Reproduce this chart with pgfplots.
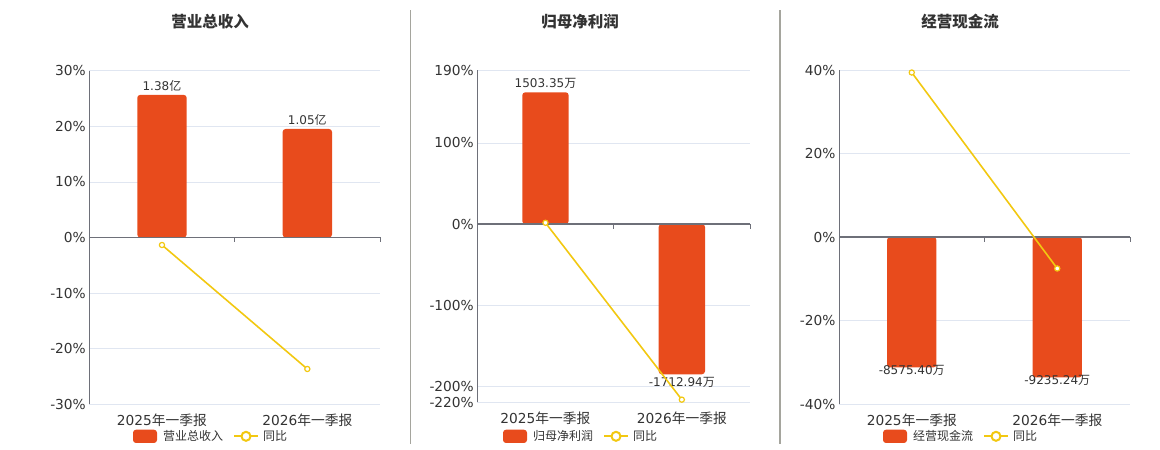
\documentclass[border=0pt]{standalone}
\usepackage{fontspec}
\setmainfont{DejaVu Sans}
\newfontfamily\cjk{Noto Sans CJK SC}
\usepackage{pgfplots}
\pgfplotsset{compat=1.18}
\definecolor{barc}{HTML}{E84B1C}
\definecolor{linec}{HTML}{F2C811}
\definecolor{txt}{HTML}{333333}
\definecolor{axc}{HTML}{6E7079}
\definecolor{gridc}{HTML}{E0E6F1}
\definecolor{sepc}{HTML}{A5A59D}
\newcommand{\yi}{{\cjk 亿}}
\newcommand{\wan}{{\cjk 万}}
\pgfplotsset{
  base/.style={scale only axis, xmin=-0.5, xmax=1.5, anchor=south west, clip=false},
  main/.style={base, axis lines*=left, axis line style={-},
    x axis line style={draw=none}, y axis line style={axc, line width=1bp},
    xtick={0,1}, xticklabels={2025{\cjk 年一季报},2026{\cjk 年一季报}},
    tick style={draw=none}, ymajorgrids, grid style={gridc, line width=0.8bp},
    ticklabel style={font=\fontsize{13.75bp}{15bp}\selectfont, text=txt},
    xticklabel style={anchor=center, yshift=-15.7bp}},
  hid/.style={base, hide axis},
  bars/.style={ybar, bar width=0.34, fill=barc, draw=none, rounded corners=3bp,
    nodes near coords, point meta=explicit symbolic,
    every node near coord/.append style={font=\fontsize{12bp}{14bp}\selectfont, text=txt}},
  negbars/.style={bars, every node near coord/.append style={anchor=north}},
  yoy/.style={linec, line width=1.6bp, mark=*, mark size=2.6bp,
    mark options={fill=white, draw=linec, line width=1.2bp}},
}
\newcommand{\zeroline}{%
  \draw[axc, line width=1.4bp] (axis cs:-0.5,0) -- (axis cs:1.5,0);
  \draw[axc, line width=1bp] (axis cs:0.5,0) -- ([yshift=-5bp]axis cs:0.5,0);
  \draw[axc, line width=1bp] (axis cs:1.5,0) -- ([yshift=-5bp]axis cs:1.5,0);
}
\newcommand{\panellegend}[3]{%
  \fill[barc, rounded corners=3bp] (#1bp-77bp,7bp) rectangle (#1bp-53bp,20.3bp);
  \node[anchor=west, inner sep=0pt, font=\fontsize{12bp}{14bp}\cjk, text=txt] at (#1bp-47bp,13.7bp) {#2};
  \draw[linec, line width=2bp] (#1bp+24bp,13.7bp) -- (#1bp+48bp,13.7bp);
  \draw[linec, line width=2bp, fill=white] (#1bp+36bp,13.7bp) circle (4.5bp);
  \node[anchor=west, inner sep=0pt, font=\fontsize{12bp}{14bp}\cjk, text=txt] at (#1bp+53bp,13.7bp) {同比};
  \node[font=\fontsize{15.5bp}{18bp}\cjk\bfseries, text=txt] at (#1bp,428bp) {#3};
}
\begin{document}
\begin{tikzpicture}
\useasboundingbox (0,0) rectangle (1160bp,450bp);
\draw[sepc, line width=1.3bp] (410.3bp,6bp) -- (410.3bp,440bp);
\draw[sepc, line width=1.3bp] (780bp,6bp) -- (780bp,440bp);
% ---------- Panel 1 ----------
\begin{axis}[main, at={(89.3bp,45.7bp)}, width=290.7bp, height=333.6bp,
  ymin=-30, ymax=30, ytick={-30,-20,-10,0,10,20,30},
  yticklabels={-30\%,-20\%,-10\%,0\%,10\%,20\%,30\%}]
\end{axis}
\begin{axis}[hid, at={(89.3bp,45.7bp)}, width=290.7bp, height=333.6bp, ymin=-1.614, ymax=1.614]
\addplot[bars] coordinates {(0,1.38) [1.38\yi] (1,1.05) [1.05\yi]};
\end{axis}
\begin{axis}[hid, at={(89.3bp,45.7bp)}, width=290.7bp, height=333.6bp, ymin=-30, ymax=30]
\zeroline
\addplot[yoy] coordinates {(0,-1.35) (1,-23.65)};
\end{axis}
\panellegend{210}{营业总收入}{营业总收入}
% ---------- Panel 2 ----------
\begin{axis}[main, at={(477.3bp,47.5bp)}, width=272.7bp, height=332.5bp,
  ymin=-220, ymax=190, ytick={-220,-200,-100,0,100,190},
  yticklabels={-220\%,-200\%,-100\%,0\%,100\%,190\%}]
\end{axis}
\begin{axis}[hid, at={(477.3bp,47.5bp)}, width=272.7bp, height=332.5bp, ymin=-2035, ymax=1757.5]
\addplot[bars] coordinates {(0,1503.35) [1503.35\wan]};
\addplot[negbars] coordinates {(1,-1712.94) [-1712.94\wan]};
\end{axis}
\begin{axis}[hid, at={(477.3bp,47.5bp)}, width=272.7bp, height=332.5bp, ymin=-220, ymax=190]
\zeroline
\addplot[yoy] coordinates {(0,1.6) (1,-216.5)};
\end{axis}
\panellegend{580}{归母净利润}{归母净利润}
% ---------- Panel 3 ----------
\begin{axis}[main, at={(839bp,45.7bp)}, width=291bp, height=334.3bp,
  ymin=-40, ymax=40, ytick={-40,-20,0,20,40},
  yticklabels={-40\%,-20\%,0\%,20\%,40\%}]
\end{axis}
\begin{axis}[hid, at={(839bp,45.7bp)}, width=291bp, height=334.3bp, ymin=-11000, ymax=11000]
\addplot[negbars, every node near coord/.append style={yshift=5.5bp}] coordinates {(0,-8575.40) [-8575.40\wan] (1,-9235.24) [-9235.24\wan]};
\end{axis}
\begin{axis}[hid, at={(839bp,45.7bp)}, width=291bp, height=334.3bp, ymin=-40, ymax=40]
\zeroline
\addplot[yoy] coordinates {(0,39.4) (1,-7.5)};
\end{axis}
\panellegend{960}{经营现金流}{经营现金流}
\end{tikzpicture}%
\end{document}
